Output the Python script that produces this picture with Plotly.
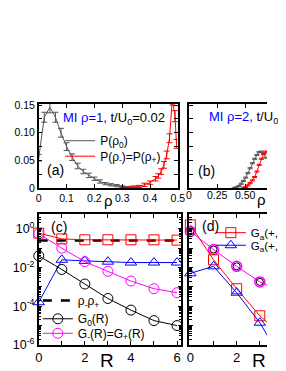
import plotly.graph_objects as go

W, H = 286, 371

# ---------------- data ----------------
# panel (a): MI rho=1
rho_a0 = [0.00, 0.02, 0.04, 0.06, 0.08, 0.10, 0.12, 0.14, 0.16, 0.18, 0.20,
          0.22, 0.24, 0.26, 0.28, 0.30, 0.32, 0.34, 0.36]
p_a0 = [0.055, 0.128, 0.146, 0.128, 0.100, 0.075, 0.056, 0.040, 0.030, 0.023,
        0.017, 0.012, 0.008, 0.006, 0.0045, 0.003, 0.002, 0.001, 0.0005]
err_a0 = [0.006, 0.009, 0.010, 0.009, 0.008, 0.007, 0.006, 0.005, 0.004, 0.004,
          0.003, 0.003, 0.002, 0.002, 0.002, 0.001, 0.001, 0.001, 0.001]

rho_am = [0.30, 0.32, 0.34, 0.36, 0.38, 0.40, 0.42, 0.43, 0.44, 0.45, 0.46,
          0.47, 0.48, 0.49, 0.495]
p_am = [0.0005, 0.001, 0.002, 0.003, 0.006, 0.010, 0.017, 0.022, 0.030, 0.042,
        0.060, 0.090, 0.160, 0.130, 0.080]
err_am = [0.001, 0.001, 0.002, 0.002, 0.003, 0.003, 0.004, 0.004, 0.005, 0.006,
          0.007, 0.008, 0.010, 0.010, 0.008]

# panel (b): MI rho=2
rho_b0 = [0.40, 0.42, 0.44, 0.46, 0.48, 0.50, 0.52, 0.54, 0.56, 0.58, 0.60,
          0.62, 0.64, 0.66, 0.68]
p_b0 = [0.0005, 0.0015, 0.004, 0.008, 0.013, 0.019, 0.027, 0.036, 0.045,
        0.053, 0.060, 0.065, 0.066, 0.062, 0.055]
err_b0 = [0.001] * 15
rho_bm = [0.48, 0.50, 0.52, 0.54, 0.56, 0.58, 0.60, 0.62, 0.64, 0.66, 0.68, 0.70]
p_bm = [0.0005, 0.002, 0.005, 0.009, 0.014, 0.020, 0.030, 0.042, 0.053, 0.062,
        0.066, 0.065]
err_bm = [0.001] * 12
ticks_b = [0, 0.25, 0.5]
ticktext_b = ["0", "0.25", "0.50"]

# panel (c): correlations vs R (rho=1)
R_c = [0, 1, 2, 3, 4, 5, 6]
rho_prod_c = [0.25, 0.25, 0.25, 0.25, 0.25, 0.25, 0.25]
G0_c = [0.04, 0.0079, 0.0014, 2.5e-4, 6.3e-5, 1.8e-5, 1.0e-5]
Gpm_c = [0.56, 0.10, 0.020, 0.0063, 0.0020, 8.0e-4, 5.0e-4]
Gam_c = [0.60, 0.30, 0.27, 0.27, 0.27, 0.27, 0.26]
Ga0_c = [1.6e-4, 0.025, 0.022, 0.020, 0.018, 0.018, 0.018]

# panel (d): correlations vs R (rho=2)
R_d = [0, 1, 2, 3, 4]
G0_d = [0.73, 0.085, 0.0115, 0.0018, 5.6e-4]
Gpm_d = [0.73, 0.085, 0.0115, 0.0018, 5.6e-4]
Gam_d = [1.6, 0.025, 8.0e-4, 3.2e-5, 2.8e-6]
Ga0_d = [5.0e-3, 0.0115, 5.0e-4, 1.4e-5, 1.3e-7]

# ---------------- style ----------------
FONT = "Liberation Sans, Arial, sans-serif"
RED, BLUE, MAG, BLK, GRY = "#ff0000", "#0000ff", "#ff00ff", "#000000", "#555555"

fig = go.Figure()

# (a)
fig.add_trace(go.Scatter(x=rho_a0, y=p_a0, mode="lines", name="P(ρ<sub>0</sub>)",
                         line=dict(color=GRY, width=1),
                         error_y=dict(type="data", array=err_a0, color=GRY, thickness=1, width=3),
                         xaxis="x", yaxis="y", legend="legend"))
fig.add_trace(go.Scatter(x=rho_am, y=p_am, mode="lines", name="P(ρ<sub>-</sub>)=P(ρ<sub>+</sub>)",
                         line=dict(color=RED, width=1),
                         error_y=dict(type="data", array=err_am, color=RED, thickness=1, width=3),
                         xaxis="x", yaxis="y", legend="legend2"))
# (b)
fig.add_trace(go.Scatter(x=rho_b0, y=p_b0, mode="lines", showlegend=False,
                         line=dict(color=GRY, width=1),
                         error_y=dict(type="data", array=err_b0, color=GRY, thickness=1, width=2.5),
                         xaxis="x2", yaxis="y2"))
fig.add_trace(go.Scatter(x=rho_bm, y=p_bm, mode="lines", showlegend=False,
                         line=dict(color=RED, width=1),
                         error_y=dict(type="data", array=err_bm, color=RED, thickness=1, width=2.5),
                         xaxis="x2", yaxis="y2"))

# (c)
fig.add_trace(go.Scatter(x=R_c, y=rho_prod_c, mode="lines", name="ρ<sub>-</sub>ρ<sub>+</sub>",
                         line=dict(color=BLK, width=2.5, dash="dash"),
                         xaxis="x3", yaxis="y3", legend="legend3"))
fig.add_trace(go.Scatter(x=R_c, y=Gam_c, mode="lines+markers", showlegend=False,
                         line=dict(color=RED, width=1),
                         marker=dict(symbol="square-open", size=10, color=RED, line=dict(width=1)),
                         cliponaxis=False, xaxis="x3", yaxis="y3"))
fig.add_trace(go.Scatter(x=R_c, y=Ga0_c, mode="lines+markers", showlegend=False,
                         line=dict(color=BLUE, width=1),
                         marker=dict(symbol="triangle-up-open", size=10, color=BLUE, line=dict(width=1)),
                         cliponaxis=False, xaxis="x3", yaxis="y3"))
fig.add_trace(go.Scatter(x=R_c, y=G0_c, mode="lines+markers", name="G<sub>0</sub>(R)",
                         line=dict(color=BLK, width=1),
                         marker=dict(symbol="circle-open", size=10, color=BLK, line=dict(width=1)),
                         cliponaxis=False, xaxis="x3", yaxis="y3", legend="legend4"))
fig.add_trace(go.Scatter(x=R_c, y=Gpm_c, mode="lines+markers", name="G<sub>-</sub>(R)=G<sub>+</sub>(R)",
                         line=dict(color=MAG, width=1),
                         marker=dict(symbol="circle-open", size=10, color=MAG, line=dict(width=1)),
                         cliponaxis=False, xaxis="x3", yaxis="y3", legend="legend5"))

# (d)
fig.add_trace(go.Scatter(x=R_d, y=Gpm_d, mode="lines+markers", showlegend=False,
                         line=dict(color=MAG, width=1),
                         marker=dict(symbol="circle-open", size=10, color=MAG, line=dict(width=1.5)),
                         cliponaxis=False, xaxis="x4", yaxis="y4"))
fig.add_trace(go.Scatter(x=R_d, y=G0_d, mode="markers", showlegend=False,
                         marker=dict(symbol="circle-open", size=7, color=BLK, line=dict(width=1)),
                         cliponaxis=False, xaxis="x4", yaxis="y4"))
fig.add_trace(go.Scatter(x=R_d, y=Gam_d, mode="lines+markers", name="G<sub>a</sub>(+,-)",
                         line=dict(color=RED, width=1),
                         marker=dict(symbol="square-open", size=10, color=RED, line=dict(width=1)),
                         cliponaxis=False, xaxis="x4", yaxis="y4", legend="legend6"))
fig.add_trace(go.Scatter(x=R_d, y=Ga0_d, mode="lines+markers", name="G<sub>a</sub>(+,0)",
                         line=dict(color=BLUE, width=1),
                         marker=dict(symbol="triangle-up-open", size=10, color=BLUE, line=dict(width=1)),
                         cliponaxis=False, xaxis="x4", yaxis="y4", legend="legend7"))


def px_x(a, b):
    return [a / W, min(b / W, 1.0)]


def px_y(top, bottom):
    return [(H - bottom) / H, (H - top) / H]


base_ax = dict(showline=True, linecolor=BLK, linewidth=1.5, ticks="inside", ticklen=4,
               tickcolor=BLK, showgrid=False, zeroline=False,
               tickfont=dict(family=FONT, size=10.5, color=BLK))

lin_minor = dict(ticks="inside", ticklen=4, tickcolor=BLK, showgrid=False)

log_minor_vals = [k * 10.0 ** n for n in range(-6, 1) for k in range(2, 10)]
log_major_vals = [1e-6, 1e-5, 1e-4, 1e-3, 1e-2, 1e-1, 1]
log_major_txt = ["10<sup>-6</sup>", " ", "10<sup>-4</sup>", " ", "10<sup>-2</sup>", " ", "10<sup>0</sup>"]


def leg(text_x, row_y, size=12):
    # one legend per entry so that the rows can sit as close as in the reference
    return dict(x=(text_x - 43) / W, y=(H - row_y) / H, xanchor="left", yanchor="middle",
                bgcolor="rgba(0,0,0,0)", font=dict(family=FONT, size=size, color=BLK),
                itemwidth=30, tracegroupgap=0)


dom_b = px_x(199, 286)
range_b = [0, 0.69]

fig.update_layout(
    width=W, height=H, margin=dict(l=0, r=0, t=0, b=0),
    paper_bgcolor="white", plot_bgcolor="white",
    font=dict(family=FONT, color=BLK),
    xaxis=dict(base_ax, domain=px_x(30, 186), range=[0, 0.5], anchor="y", mirror="ticks",
               tickvals=[0, 0.1, 0.2, 0.3, 0.4, 0.5], ticktext=["0", "0.1", "0.2", "0.3", "0.4", "0.5"]),
    yaxis=dict(base_ax, domain=px_y(94, 181), range=[0, 0.152], anchor="x", mirror="ticks",
               tickvals=[0, 0.05, 0.10, 0.15], ticktext=["0", "0.05", "0.10", "0.15"],
               minor=dict(lin_minor, dtick=0.025)),
    xaxis2=dict(base_ax, domain=dom_b, range=range_b, anchor="y2", mirror="ticks",
                tickvals=ticks_b, showticklabels=False),
    yaxis2=dict(base_ax, domain=px_y(94, 181), range=[0, 0.152], anchor="x2",
                tickvals=[0, 0.05, 0.10, 0.15], showticklabels=False,
                minor=dict(lin_minor, dtick=0.025)),
    xaxis3=dict(base_ax, domain=px_x(30, 190), range=[0, 6.19], anchor="y3", mirror="ticks",
                tickvals=[0, 2, 4, 6], tickfont=dict(family=FONT, size=13, color=BLK),
                minor=dict(lin_minor, dtick=1)),
    yaxis3=dict(base_ax, type="log", domain=px_y(208, 343), range=[-6, 0.75], anchor="x3",
                mirror="ticks", tickvals=log_major_vals, ticktext=log_major_txt,
                tickfont=dict(family=FONT, size=12.5, color=BLK),
                minor=dict(ticks="inside", ticklen=2.5, tickcolor=BLK, tickvals=log_minor_vals)),
    xaxis4=dict(base_ax, domain=px_x(199, 286), range=[-0.04, 3.31], anchor="y4", mirror="ticks",
                tickvals=[0, 2], tickfont=dict(family=FONT, size=13, color=BLK),
                minor=dict(lin_minor, dtick=1)),
    yaxis4=dict(base_ax, type="log", domain=px_y(208, 343), range=[-6, 0.75], anchor="x4",
                tickvals=log_major_vals, showticklabels=False,
                minor=dict(ticks="inside", ticklen=2.5, tickcolor=BLK, tickvals=log_minor_vals)),
    legend=leg(97, 132),
    legend2=leg(97, 148),
    legend3=leg(72, 297),
    legend4=leg(72, 316),
    legend5=leg(72, 331),
    legend6=leg(266, 227, 11.5),
    legend7=leg(266, 240, 11.5),
)

ann = [
    dict(text="<span style='color:#0000ff'>MI ρ=1,</span> t/U<sub>0</sub>=0.02", x=55 / W, y=(H - 109) / H,
         xanchor="left", yanchor="middle", font=dict(size=13)),
    dict(text="<span style='color:#0000ff'>MI ρ=2,</span> t/U<sub>0</sub>=0.02", x=219 / W, y=(H - 108) / H,
         xanchor="left", yanchor="middle", font=dict(size=13)),
    dict(text="(a)", x=37 / W, y=(H - 162) / H, xanchor="left", yanchor="middle", font=dict(size=14)),
    dict(text="(b)", x=206 / W, y=(H - 163) / H, xanchor="left", yanchor="middle", font=dict(size=14)),
    dict(text="(c)", x=41 / W, y=(H - 221) / H, xanchor="left", yanchor="middle", font=dict(size=14)),
    dict(text="(d)", x=211 / W, y=(H - 220) / H, xanchor="left", yanchor="middle", font=dict(size=14)),
    dict(text="ρ", x=108 / W, y=(H - 194) / H, xanchor="center", yanchor="middle", font=dict(size=15)),
    dict(text="ρ", x=280 / W, y=(H - 193) / H, xanchor="center", yanchor="middle", font=dict(size=15)),
    dict(text="R", x=107 / W, y=(H - 359) / H, xanchor="center", yanchor="middle", font=dict(size=19)),
    dict(text="R", x=277 / W, y=(H - 359) / H, xanchor="center", yanchor="middle", font=dict(size=19)),
]

# tick labels of panel (b): the panel runs past the right edge of the picture,
# so its labels are placed through the axis' own linear scale in paper units
for tv, tt in zip(ticks_b, ticktext_b):
    xp = dom_b[0] + (tv - range_b[0]) / (range_b[1] - range_b[0]) * (dom_b[1] - dom_b[0])
    ann.append(dict(text=tt, x=xp, y=(H - 188) / H, xanchor="center", yanchor="middle",
                    font=dict(size=10.5)))

for a in ann:
    a.update(xref="paper", yref="paper", showarrow=False)
    a["font"] = dict(family=FONT, color=BLK, **a["font"])
fig.update_layout(annotations=ann)

fig.write_html("out.html")
